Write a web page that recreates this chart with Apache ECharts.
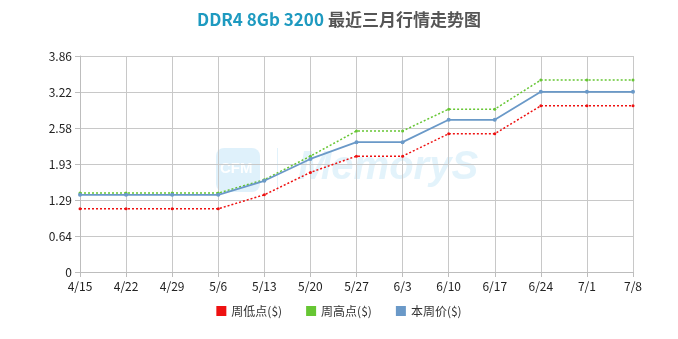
<!DOCTYPE html>
<html><head><meta charset="utf-8">
<script src="https://cdn.jsdelivr.net/npm/echarts@6/dist/echarts.min.js"></script>
<style>html,body{margin:0;padding:0;background:#fff}#c{width:678px;height:339px}</style>
</head><body><div id="c"></div>
<script>
const categories = ['4/15','4/22','4/29','5/6','5/13','5/20','5/27','6/3','6/10','6/17','6/24','7/1','7/8'];
const weekLow  = [1.13,1.13,1.13,1.13,1.38,1.78,2.07,2.07,2.47,2.47,2.97,2.97,2.97];
const weekHigh = [1.41,1.41,1.41,1.41,1.65,2.07,2.52,2.52,2.91,2.91,3.43,3.43,3.43];
const weekPrice= [1.38,1.38,1.38,1.38,1.63,2.02,2.32,2.32,2.72,2.72,3.22,3.22,3.22];
const yMax = 3.86;
const yTickLabels = ['0','0.64','1.29','1.93','2.58','3.22','3.86'];
const seriesNames = ['周低点($)','周高点($)','本周价($)'];

const chart = echarts.init(document.getElementById('c'));
const font = '"Noto Sans CJK SC","Noto Sans",sans-serif';
chart.setOption({
  animation:false,
  textStyle:{fontFamily:font},
  title:{
    text:'{a|DDR4 8Gb 3200} {b|最近三月行情走势图}',
    left:'center', top:6,
    textStyle:{rich:{
      a:{color:'#1e9ac0',fontWeight:'bold',fontSize:17,fontFamily:font},
      b:{color:'#555555',fontWeight:'bold',fontSize:17,fontFamily:font}
    }}
  },
  graphic:[
    {type:'rect',left:216,top:148,shape:{width:44,height:44,r:8},style:{fill:'rgba(140,205,240,0.28)'}},
    {type:'text',left:220,top:161,style:{text:'CFM',fill:'rgba(255,255,255,0.95)',font:'bold 15px sans-serif'}},
    {type:'rect',left:277,top:148,shape:{width:1,height:44},style:{fill:'rgba(140,205,240,0.25)'}},
    {type:'text',left:298,top:148,style:{text:'MemoryS',fill:'rgba(140,205,240,0.24)',font:'italic bold 40px sans-serif'}}
  ],
  legend:{
    bottom:17, left:'center', itemWidth:10, itemHeight:10, itemGap:24,
    icon:'rect',
    textStyle:{color:'#333',fontSize:12,fontFamily:font},
    data:seriesNames
  },
  grid:{left:80,right:45,top:56,bottom:67},
  xAxis:{
    type:'category', data:categories, boundaryGap:false,
    axisLine:{lineStyle:{color:'#bdbdbd'}},
    axisTick:{show:true,alignWithLabel:true,length:5,lineStyle:{color:'#bdbdbd'}},
    axisLabel:{color:'#222',fontSize:12,margin:8},
    splitLine:{show:true,lineStyle:{color:'#c8c8c8'}}
  },
  yAxis:{
    type:'value', min:0, max:yMax, interval:yMax/6,
    axisLine:{show:true,lineStyle:{color:'#bdbdbd'}},
    axisTick:{show:true,length:5,lineStyle:{color:'#bdbdbd'}},
    axisLabel:{color:'#222',fontSize:12,margin:8,
      formatter:(v)=>{const i=Math.round(v/(yMax/6));return yTickLabels[i]??'';}},
    splitLine:{show:true,lineStyle:{color:'#c8c8c8'}}
  },
  series:[
    {name:seriesNames[0],type:'line',data:weekLow,color:'#ee1111',symbol:'circle',symbolSize:3,
     lineStyle:{width:1.5,type:[2,2],color:'#ee1111'},itemStyle:{color:'#ee1111'}},
    {name:seriesNames[1],type:'line',data:weekHigh,color:'#66c633',symbol:'circle',symbolSize:3,
     lineStyle:{width:1.5,type:[2,2],color:'#66c633'},itemStyle:{color:'#66c633'}},
    {name:seriesNames[2],type:'line',data:weekPrice,color:'#6699cc',symbol:'circle',symbolSize:4,
     lineStyle:{width:1.8,color:'#6a99c8'},itemStyle:{color:'#6a99c8'}}
  ]
});
</script></body></html>
